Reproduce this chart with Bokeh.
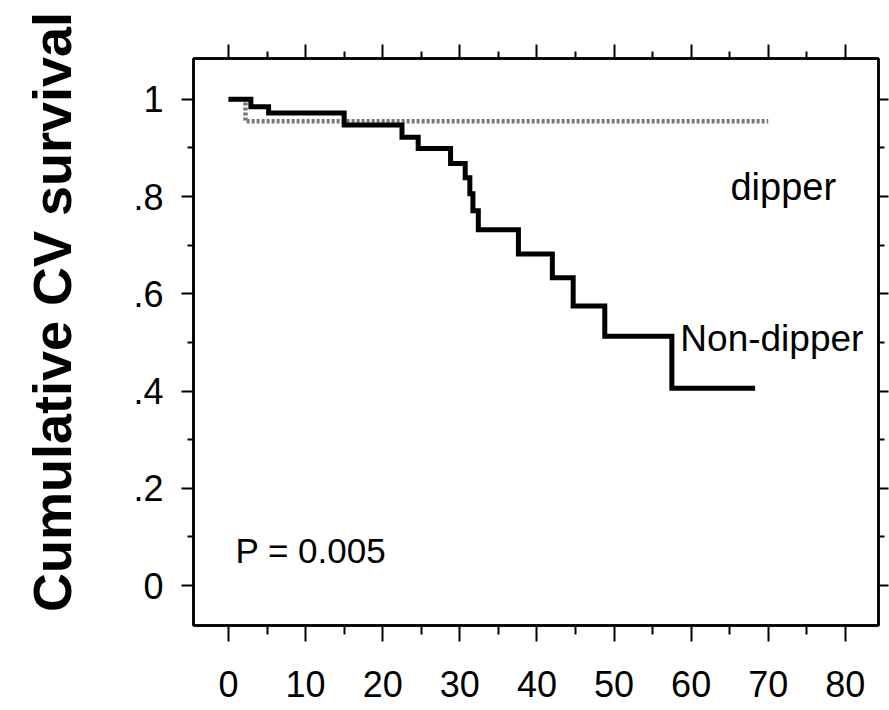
from bokeh.plotting import figure
from bokeh.models import Range1d, LinearAxis, FixedTicker, Label, CustomLabelingPolicy
from bokeh.embed import file_html
from bokeh.resources import INLINE

# ---- data ----
dipper_time = [0, 2.2, 70]
dipper_surv = [1.0, 0.955, 0.955]

nondipper_time = [0, 2.9, 5.2, 15, 22.5, 24.6, 28.8, 30.7, 31.3, 31.7, 32.4,
                  37.6, 42, 44.7, 48.8, 57.5, 68.3]
nondipper_surv = [1.0, 0.985, 0.972, 0.947, 0.922, 0.899, 0.868, 0.839, 0.806,
                  0.771, 0.732, 0.682, 0.633, 0.575, 0.513, 0.406, 0.406]

x_ticks = [0, 10, 20, 30, 40, 50, 60, 70, 80]
x_minor = [5, 15, 25, 35, 45, 55, 65, 75]
y_ticks = [0, 0.2, 0.4, 0.6, 0.8, 1]
y_tick_labels = ["0", ".2", ".4", ".6", ".8", "1"]
y_minor = [0.1, 0.3, 0.5, 0.7, 0.9]

y_title = "Cumulative CV survival"
p_text = "P = 0.005"
label_dipper = "dipper"
label_nondipper = "Non-dipper"

FONT = "Liberation Sans"

p = figure(width=889, height=710, output_backend="svg", toolbar_location=None,
           x_range=Range1d(-4.54, 84.3), y_range=Range1d(-0.082, 1.084),
           min_border_left=193, min_border_right=11, min_border_top=58,
           min_border_bottom=85, x_axis_location=None, y_axis_location=None)
p.background_fill_color = "white"
p.border_fill_color = "white"
p.xgrid.visible = False
p.ygrid.visible = False
p.outline_line_color = "black"
p.outline_line_width = 2.5

xt = FixedTicker(ticks=x_ticks, minor_ticks=x_minor)
yt = FixedTicker(ticks=y_ticks, minor_ticks=y_minor)

def style(ax, tick_out, minor_out, font_size, standoff):
    ax.axis_line_color = "black"
    ax.axis_line_width = 2.5
    ax.major_tick_line_color = "black"
    ax.major_tick_line_width = 2
    ax.minor_tick_line_color = "black"
    ax.minor_tick_line_width = 2
    ax.major_tick_in = 0
    ax.minor_tick_in = 0
    ax.major_tick_out = tick_out
    ax.minor_tick_out = minor_out
    ax.major_label_text_font = FONT
    ax.major_label_text_font_size = font_size
    ax.major_label_text_color = "black"
    ax.major_label_standoff = standoff

bottom = LinearAxis(ticker=xt)
style(bottom, 16, 9, "36px", 29)
p.add_layout(bottom, "below")

left = LinearAxis(ticker=yt)
left.major_label_overrides = dict(zip(y_ticks, y_tick_labels))
style(left, 12, 6, "36px", 18)
# leading no-break spaces lift the centred title slightly, as in the original
left.axis_label = "\u00a0\u00a0\u00a0\u00a0" + y_title
left.axis_label_text_font = FONT
left.axis_label_text_font_size = "54px"
left.axis_label_text_font_style = "bold"
left.axis_label_text_color = "black"
left.axis_label_standoff = 48
p.add_layout(left, "left")

# mirrored tick marks on the top and right edges (no labels)
top = LinearAxis(ticker=xt, major_label_policy=CustomLabelingPolicy(code="return []"))
style(top, 14, 7, "0px", 0)
p.add_layout(top, "above")

right = LinearAxis(ticker=yt, major_label_policy=CustomLabelingPolicy(code="return []"))
style(right, 10, 6, "0px", 0)
p.add_layout(right, "right")

p.step(dipper_time, dipper_surv, mode="after", line_color="#787878",
       line_width=4.5, line_dash="3 2")
p.step(nondipper_time, nondipper_surv, mode="after", line_color="black",
       line_width=5, line_join="miter")

p.add_layout(Label(x=65.1, y=0.819, text=label_dipper, text_font=FONT,
                   text_font_size="38px", text_baseline="middle", text_color="black"))
p.add_layout(Label(x=58.6, y=0.508, text=label_nondipper, text_font=FONT,
                   text_font_size="37px", text_baseline="middle", text_color="black"))
p.add_layout(Label(x=0.9, y=0.072, text=p_text, text_font=FONT,
                   text_font_size="35px", text_baseline="middle", text_color="black"))

open("out.html", "w").write(file_html(p, INLINE))
